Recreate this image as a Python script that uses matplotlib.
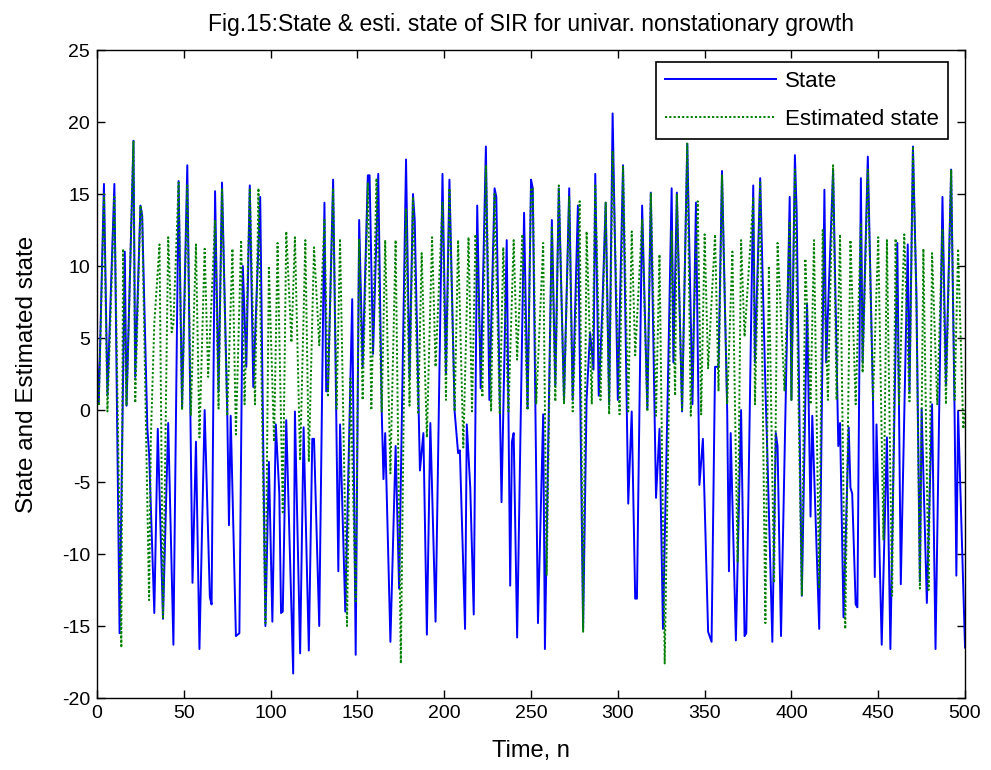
import matplotlib
matplotlib.use("Agg")
import matplotlib.pyplot as plt

plt.rcParams['font.family'] = ['Liberation Sans', 'DejaVu Sans']
plt.rcParams['axes.unicode_minus'] = False

# State (blue) vertices: time index, value
state_t = [0, 1, 4, 6, 10, 13, 16, 17, 21, 22, 25, 26, 29, 30, 33, 35, 38, 41, 44, 47,
           49, 52, 55, 57, 59, 62, 65, 66, 68, 70, 72, 75, 76, 77, 80, 82, 84, 86, 88, 90,
           94, 97, 99, 101, 103, 105, 106, 107, 109, 113, 114, 117, 119, 122, 124, 125, 128, 131, 132, 133,
           136, 139, 140, 143, 147, 149, 151, 153, 156, 157, 159, 162, 164, 165, 166, 169, 172, 174, 178, 180,
           182, 183, 186, 188, 190, 192, 195, 199, 201, 203, 206, 208, 209, 212, 213, 215, 217, 219, 221, 224,
           226, 229, 230, 232, 233, 236, 238, 239, 240, 242, 246, 248, 250, 251, 254, 257, 258, 262, 264, 266,
           269, 272, 274, 277, 280, 282, 284, 286, 287, 289, 291, 293, 295, 297, 300, 303, 306, 308, 310, 311,
           314, 317, 319, 321, 322, 324, 326, 329, 331, 332, 334, 337, 340, 343, 345, 347, 349, 352, 354, 356,
           358, 360, 363, 364, 365, 368, 371, 373, 374, 378, 379, 382, 385, 386, 389, 391, 392, 394, 399, 400,
           402, 403, 406, 409, 411, 412, 416, 419, 420, 424, 427, 428, 430, 433, 434, 435, 437, 438, 440, 441,
           444, 447, 448, 449, 452, 455, 457, 461, 463, 467, 468, 470, 472, 474, 475, 478, 481, 483, 487, 489,
           492, 494, 495, 496, 500]
state_v = [3.5, 0.5, 15.7, 1.0, 15.7, -15.5, 11.0, 0.3, 18.7, 2.3, 14.2, 13.5, -1.3, -3.0, -14.1, -1.3, -14.5, -0.9, -16.3, 15.9,
           0.2, 17.0, -12.0, -2.2, -16.6, 0.0, -13.0, -13.5, 15.2, 1.3, 15.8, 0.0, -8.0, -0.4, -15.7, -15.5, 10.0, 3.0, 15.6, 1.6,
           14.8, -15.0, -3.6, -14.7, -1.0, -5.8, -14.1, -14.0, -0.7, -18.3, -0.1, -16.9, -1.2, -16.7, -2.0, -2.0, -15.0, 14.4, 1.3, 1.3,
           16.0, -11.2, -1.0, -14.0, 7.7, -17.0, 13.2, 3.0, 16.3, 16.3, 3.9, 16.4, -0.1, -4.8, -1.6, -16.1, -2.5, -12.4, 17.4, 2.2,
           15.0, 13.2, -4.2, -1.6, -15.6, -0.9, -14.7, 16.4, 2.5, 16.0, -0.1, -3.0, -2.8, -15.2, -1.0, -5.4, -14.2, 14.2, 1.5, 18.3,
           0.7, 15.4, 14.8, 0.4, -6.4, 11.8, -12.2, -2.2, -1.6, -15.8, 13.7, 0.1, 16.0, 15.4, -14.8, -0.3, -16.6, 13.2, 1.7, 15.4,
           0.7, 15.4, 0.7, 14.2, -15.2, 0.7, 5.4, 2.8, 16.4, 1.0, 6.8, 14.4, 0.4, 20.6, 0.7, 17.0, -6.5, -0.1, -13.1, -13.1,
           14.2, 0.1, 15.1, 0.7, -6.1, -1.3, -15.2, 2.8, 15.4, 3.3, 15.1, -0.1, 18.5, 0.4, 14.4, -5.2, -2.0, -15.4, -16.1, 3.0,
           3.0, 16.6, -0.1, -11.2, -1.6, -16.0, 0.0, -15.7, -15.5, 15.6, 3.3, 16.1, 1.6, -2.5, -16.1, -1.6, -2.5, -15.7, 14.8, 0.7,
           17.7, 13.8, -12.9, 7.4, -7.4, -0.4, -15.2, 15.3, 3.3, 16.7, -2.5, -0.9, -14.4, -1.2, -5.4, -5.8, -13.5, -13.7, 16.1, 3.3,
           17.6, 0.7, -11.6, -1.0, -16.3, -1.9, -16.6, 11.6, -12.1, 11.5, 1.3, 18.3, 8.0, -11.9, 0.1, -13.4, 0.4, -16.6, 14.8, 1.7,
           16.7, -0.4, -11.5, -0.1, -16.5]

# Estimated state (green) vertices
est_t = [0, 1, 4, 6, 10, 14, 15, 17, 21, 22, 25, 26, 30, 31, 33, 36, 38, 41, 43, 44,
         47, 49, 52, 54, 57, 59, 62, 64, 68, 70, 72, 75, 78, 80, 83, 85, 88, 91, 93, 97,
         99, 102, 104, 107, 109, 112, 114, 117, 120, 122, 125, 128, 131, 133, 136, 138, 140, 144, 146, 149,
         151, 153, 156, 158, 161, 164, 166, 169, 172, 175, 178, 180, 182, 185, 187, 190, 193, 195, 199, 201,
         203, 206, 208, 211, 214, 216, 218, 222, 224, 227, 229, 232, 234, 237, 240, 242, 245, 248, 250, 251,
         253, 257, 259, 262, 264, 266, 269, 272, 274, 278, 280, 282, 285, 287, 290, 293, 295, 297, 301, 303,
         306, 308, 310, 314, 317, 319, 322, 324, 327, 331, 333, 334, 337, 340, 342, 346, 348, 350, 352, 356,
         358, 360, 363, 366, 369, 371, 373, 378, 379, 382, 385, 387, 390, 392, 396, 399, 400, 402, 404, 406,
         408, 411, 413, 416, 418, 421, 424, 426, 428, 431, 434, 437, 440, 441, 444, 447, 450, 453, 455, 458,
         460, 462, 465, 468, 470, 472, 474, 476, 479, 481, 484, 487, 489, 492, 494, 496, 499, 500]
est_v = [2.0, 0.3, 15.0, -0.1, 14.8, -16.5, 11.2, 0.3, 18.7, 0.5, 14.2, 13.5, -13.2, -2.0, 6.0, 11.5, -14.5, 12.0, 5.4, 6.0,
         15.8, 0.0, 15.6, -0.4, 11.5, -1.9, 11.2, 2.3, 13.2, 0.1, 15.4, -0.4, 11.2, -1.7, 11.8, 0.4, 15.4, 0.4, 15.4, -14.8,
         10.0, -2.2, 11.6, -7.1, 12.4, 4.7, 12.0, -3.5, 11.8, -3.6, 11.3, 4.5, 13.2, 0.9, 15.4, 0.1, 11.9, -15.0, 2.2, -13.4,
         11.9, 0.7, 15.8, 0.0, 16.1, -0.1, 11.8, -4.4, 11.8, -17.6, 14.0, 0.3, 14.8, -0.3, 10.9, -1.9, 12.0, 3.0, 14.4, 0.7,
         15.4, -0.1, 11.8, -2.6, 12.0, -0.1, 12.2, 0.9, 17.0, -0.1, 15.0, -0.3, 11.3, -0.1, 11.8, 3.5, 12.2, 0.0, 15.4, 15.4,
         0.4, 11.6, -11.5, 12.8, 0.6, 15.6, 0.4, 14.8, -0.1, 14.5, -15.4, 12.4, 0.4, 15.6, 0.7, 14.4, -0.3, 18.0, -0.3, 16.9,
         -0.1, 12.4, 3.8, 13.2, -0.1, 15.1, -0.4, 10.8, -17.6, 12.4, 1.0, 15.0, -0.1, 18.5, -0.4, 14.5, -0.3, 12.2, 2.9, 12.2,
         1.3, 16.3, 0.4, 11.0, -10.6, 11.8, 5.1, 14.7, 0.4, 15.8, -14.8, 10.0, -12.0, 11.6, 1.3, 13.1, 0.7, 16.7, 1.0, -12.9,
         10.5, 0.4, 11.8, -12.4, 12.5, 0.7, 17.0, 0.7, 12.2, -15.2, 11.8, 0.4, 12.9, 2.6, 16.7, 0.7, 12.0, -9.0, 11.8, -12.9,
         11.9, 0.4, 12.2, 0.6, 18.3, 7.4, -12.4, 11.2, -12.5, 10.9, 0.4, 12.6, 0.4, 16.7, 0.7, 11.2, -1.3, 0.0]

xticks = [0, 50, 100, 150, 200, 250, 300, 350, 400, 450, 500]
yticks = [-20, -15, -10, -5, 0, 5, 10, 15, 20, 25]

fig = plt.figure(figsize=(9.91, 7.70), dpi=100)
ax = fig.add_axes([0.0979, 0.0935, 0.8759, 0.8415])

ax.plot(state_t, state_v, color='#0000ff', lw=1.4, label='State')
ax.plot(est_t, est_v, color='#008000', lw=1.4, linestyle=(0, (1.1, 1.1)), label='Estimated state')

ax.set_xlim(0, 500)
ax.set_ylim(-20, 25)
ax.set_xticks(xticks)
ax.set_yticks(yticks)
ax.tick_params(direction='in', top=True, right=True, labelsize=14, length=6, width=1, pad=5)
for s in ax.spines.values():
    s.set_linewidth(1.0)

ax.set_xlabel('Time, n', fontsize=17, labelpad=13)
ax.set_ylabel('State and Estimated state', fontsize=17.5, labelpad=17)
ax.set_title('Fig.15:State & esti. state of SIR for univar. nonstationary growth', fontsize=16.5, pad=14)

leg = ax.legend(loc='upper right', bbox_to_anchor=(0.980, 0.981), fontsize=16, fancybox=False,
                framealpha=1, edgecolor='black', handlelength=5.0, borderpad=0.4,
                labelspacing=0.75, borderaxespad=0.0, handletextpad=0.4)
leg.get_frame().set_linewidth(1.2)

fig.savefig('out.png', dpi=100)
